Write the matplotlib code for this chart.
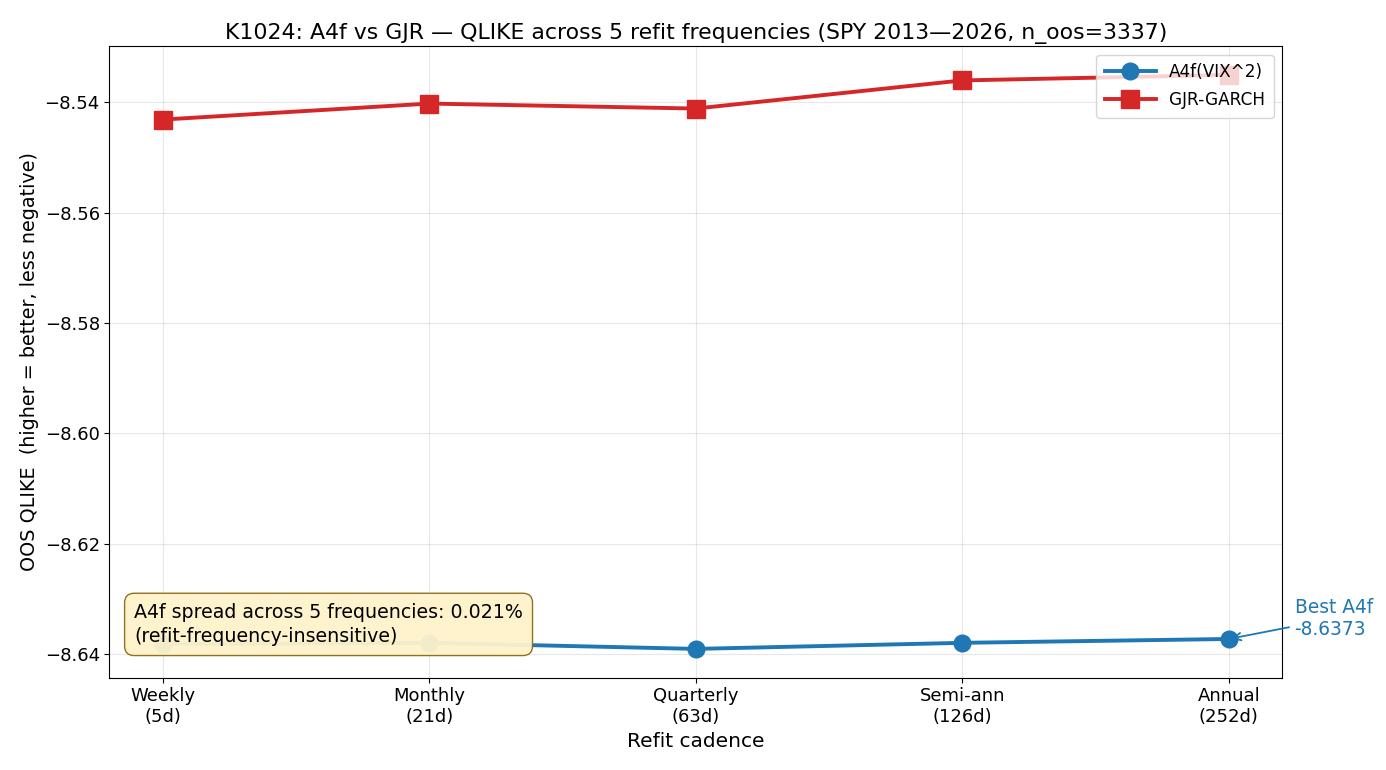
import numpy as np
import matplotlib
matplotlib.use('Agg')
import matplotlib.pyplot as plt

plt.rcParams['font.family'] = ['DejaVu Sans']

# Refit cadences
cadences = ['Weekly\n(5d)', 'Monthly\n(21d)', 'Quarterly\n(63d)', 'Semi-ann\n(126d)', 'Annual\n(252d)']

# OOS QLIKE per cadence
a4f = [-8.6382, -8.6380, -8.6391, -8.6380, -8.6373]
gjr = [-8.5431, -8.5402, -8.5411, -8.5360, -8.5350]

x = np.arange(len(cadences))

fig, ax = plt.subplots(figsize=(13.86, 7.7), dpi=100)

ax.plot(x, a4f, marker='o', color='#1f77b4', lw=2.8, ms=12, label='A4f(VIX^2)')
ax.plot(x, gjr, marker='s', color='#d62728', lw=2.8, ms=13, label='GJR-GARCH')

ax.set_xticks(x)
ax.set_xticklabels(cadences, fontsize=13)
ax.tick_params(axis='y', labelsize=13)
ax.set_xlabel('Refit cadence', fontsize=14.5)
ax.set_ylabel('OOS QLIKE  (higher = better, less negative)', fontsize=13.8)
ax.set_title('K1024: A4f vs GJR \u2014 QLIKE across 5 refit frequencies (SPY 2013\u20142026, n_oos=3337)',
             fontsize=15.8, pad=5)
ax.grid(alpha=0.3)
ax.legend(loc='upper right', fontsize=12.2, handlelength=3.0, labelspacing=0.6, borderpad=0.5)

# Best A4f annotation
best = int(np.argmax(a4f))
ax.annotate(f'Best A4f\n{a4f[best]:.4f}', xy=(x[best], a4f[best]), xytext=(4.247, -8.6336),
            color='#1f77b4', fontsize=13.4, ha='left', va='center', annotation_clip=False,
            arrowprops=dict(arrowstyle='->', color='#1f77b4', lw=1.3))

spread = (max(a4f) - min(a4f)) / abs(np.mean(a4f)) * 100
ax.text(0.021, 0.05, f'A4f spread across 5 frequencies: {spread:.3f}%\n(refit-frequency-insensitive)',
        transform=ax.transAxes, fontsize=13.7, va='bottom', ha='left', linespacing=1.35,
        bbox=dict(boxstyle='round,pad=0.5', facecolor='#fff3cc', edgecolor='#8b6914', alpha=0.95))

fig.subplots_adjust(left=0.079, right=0.925, top=0.94, bottom=0.12)
fig.savefig('out.png', dpi=100)
